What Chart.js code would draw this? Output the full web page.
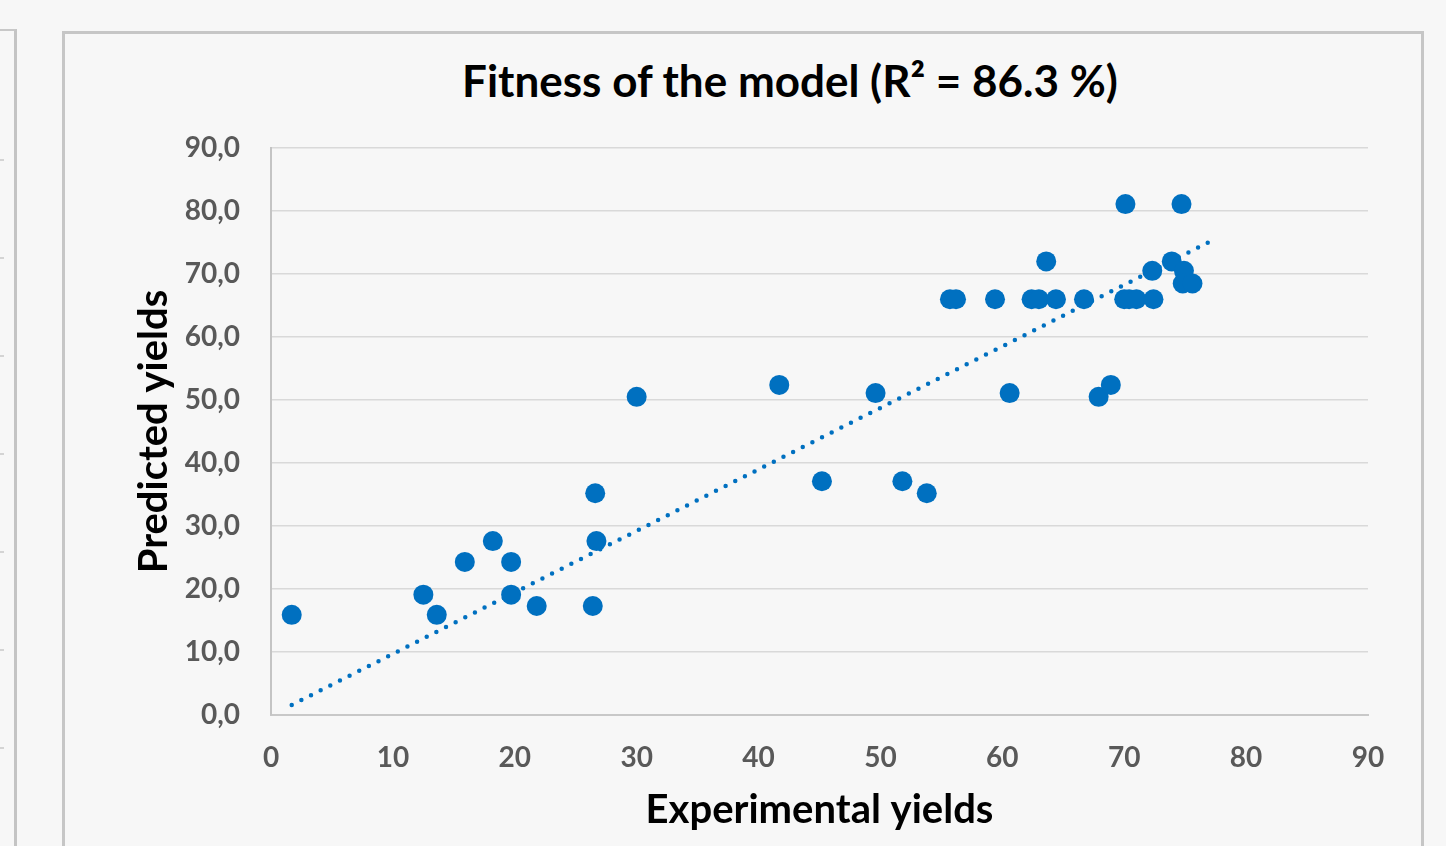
<!DOCTYPE html>
<html>
<head>
<meta charset="utf-8">
<script src="https://cdn.jsdelivr.net/npm/chart.js@4.4.1/dist/chart.umd.min.js"></script>
<style>
  html, body { margin: 0; padding: 0; }
  body {
    width: 1446px;
    height: 846px;
    overflow: hidden;
    background: #f7f7f7;
    position: relative;
    font-family: Lato, "Open Sans", sans-serif;
  }
  .prev-frame {
    position: absolute;
    left: 0;
    top: 29px;
    width: 14px;
    height: 900px;
    border-top: 2px solid #c8c8c8;
    border-right: 3px solid #c4c4c4;
  }
  .prev-stubs {
    position: absolute;
    left: 0;
    top: 159px;
    width: 4px;
    height: 600px;
    background: repeating-linear-gradient(to bottom, #d4d4d4 0, #d4d4d4 2px, transparent 2px, transparent 98px);
  }
  .frame {
    position: absolute;
    left: 62px;
    top: 31px;
    width: 1356px;
    height: 840px;
    border: 3px solid #c6c6c6;
  }
  .title {
    position: absolute;
    left: 0;
    width: 1580px;
    top: 58px;
    text-align: center;
    font-size: 44px;
    line-height: 44px;
    font-weight: bold;
    color: #000;
    white-space: nowrap;
  }
  #chart {
    position: absolute;
    left: 0;
    top: 0;
  }
</style>
</head>
<body>
<div class="prev-frame"></div>
<div class="prev-stubs"></div>
<div class="frame"></div>
<div class="title">Fitness of the model (R² = 86.3 %)</div>
<canvas id="chart" width="1446" height="846"></canvas>
<script>
// experimental vs predicted yields
const expYields = [1.7, 12.5, 13.6, 15.9, 18.2, 19.7, 19.7, 21.8, 26.4, 26.6, 26.7, 30.0,
  41.7, 45.2, 49.6, 51.8, 53.8, 55.7, 56.2, 59.4, 60.6, 62.4, 63.0, 63.6, 64.4, 66.7,
  67.9, 68.9, 70.0, 70.1, 70.4, 71.0, 72.3, 72.4, 73.9, 74.7, 74.9, 74.8, 75.6];
const predYields = [15.9, 19.1, 15.9, 24.3, 27.6, 24.3, 19.1, 17.3, 17.3, 35.2, 27.6, 50.5,
  52.4, 37.1, 51.1, 37.1, 35.2, 66.0, 66.0, 66.0, 51.1, 66.0, 66.0, 72.0, 66.0, 66.0,
  50.5, 52.4, 66.0, 81.1, 66.0, 66.0, 70.5, 66.0, 72.0, 81.1, 70.5, 68.5, 68.5];

// linear trendline end points
const trendX = [1.7, 77.6];
const trendY = [1.6, 75.7];

const axisMin = 0;
const axisMax = 90;
const axisStep = 10;

const blue = '#0070c0';
const tickColor = '#595959';
const font = 'Lato, "Open Sans", sans-serif';

const points = expYields.map((x, i) => ({ x: x, y: predYields[i] }));
const trend = trendX.map((x, i) => ({ x: x, y: trendY[i] }));

const ctx = document.getElementById('chart').getContext('2d');
new Chart(ctx, {
  type: 'scatter',
  data: {
    datasets: [{
      label: 'Predicted',
      data: points,
      backgroundColor: blue,
      borderColor: blue,
      borderWidth: 0,
      pointRadius: 10,
      pointHoverRadius: 10,
      order: 1
    }, {
      label: 'Trend',
      data: trend,
      type: 'line',
      showLine: true,
      borderColor: blue,
      borderWidth: 4.5,
      borderDash: [0, 10.8],
      borderCapStyle: 'round',
      pointRadius: 0,
      fill: false,
      order: 2
    }]
  },
  options: {
    responsive: false,
    animation: false,
    events: [],
    layout: {
      padding: { left: 120, right: 78, top: 148, bottom: 0 }
    },
    plugins: {
      legend: { display: false },
      tooltip: { enabled: false },
      title: { display: false }
    },
    scales: {
      x: {
        type: 'linear',
        min: axisMin,
        max: axisMax,
        afterFit: function(scale) {
          scale.height = 131;
        },
        ticks: {
          stepSize: axisStep,
          padding: 26,
          color: tickColor,
          font: { family: font, size: 28, weight: 'bold' }
        },
        grid: {
          display: false,
          drawTicks: false
        },
        border: {
          display: true,
          color: '#c8c8c8',
          width: 2
        },
        title: {
          display: true,
          text: 'Experimental yields',
          color: '#000',
          padding: { top: 0, bottom: 12 },
          font: { family: font, size: 40, weight: 'bold' }
        }
      },
      y: {
        type: 'linear',
        min: axisMin,
        max: axisMax,
        afterFit: function(scale) {
          scale.width = 151;
        },
        ticks: {
          stepSize: axisStep,
          padding: 31,
          color: tickColor,
          font: { family: font, size: 28, weight: 'bold' },
          callback: function(value) {
            return value.toFixed(1).replace('.', ',');
          }
        },
        grid: {
          color: '#d9d9d9',
          lineWidth: 1.5,
          drawTicks: false
        },
        border: {
          display: true,
          color: '#c4c4c4',
          width: 2
        },
        title: {
          display: true,
          text: 'Predicted yields',
          color: '#000',
          padding: { top: 10, bottom: 0 },
          font: { family: font, size: 40, weight: 'bold' }
        }
      }
    }
  }
});
</script>
</body>
</html>
